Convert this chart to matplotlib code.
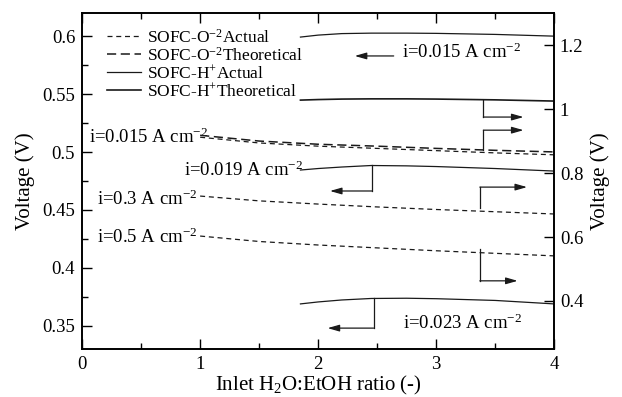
import matplotlib
matplotlib.use("Agg")
import matplotlib.pyplot as plt
from matplotlib.ticker import MultipleLocator, FormatStrFormatter

plt.rcParams['font.family'] = ['Liberation Serif', 'DejaVu Serif']
plt.rcParams['mathtext.fontset'] = 'custom'
plt.rcParams['mathtext.rm'] = 'Liberation Serif'
plt.rcParams['mathtext.it'] = 'Liberation Serif:italic'

# SOFC-O2- curves (right axis), x from 1 to 4
x_o2 = [1.0, 1.5, 2.0, 2.5, 3.0, 3.5, 4.0]
o2_015_theo = [0.918, 0.900, 0.890, 0.884, 0.877, 0.871, 0.866]
o2_015_act = [0.912, 0.894, 0.884, 0.877, 0.870, 0.863, 0.857]
o2_03_act = [0.728, 0.713, 0.703, 0.694, 0.686, 0.679, 0.672]
o2_05_act = [0.603, 0.586, 0.575, 0.566, 0.557, 0.549, 0.541]

# SOFC-H+ curves, x from 1.85 to 4
x_h = [1.85, 2.0, 2.2, 2.45, 2.75, 3.0, 3.5, 4.0]
h_015_act = [0.5993, 0.6010, 0.6023, 0.6027, 0.6027, 0.6025, 0.6016, 0.6001]  # left
h_theo = [1.028, 1.0297, 1.0312, 1.0319, 1.0319, 1.0312, 1.0288, 1.025]       # right
h_019_act = [0.4845, 0.4858, 0.4871, 0.4884, 0.4881, 0.4875, 0.4858, 0.4836]  # left
h_023_act = [0.3689, 0.3706, 0.3723, 0.3736, 0.3738, 0.3734, 0.3719, 0.3689]  # left

legend_labels = [r'SOFC-O$^{-2}$Actual', r'SOFC-O$^{-2}$Theoretical',
                 r'SOFC-H$^{+}$Actual', r'SOFC-H$^{+}$Theoretical']

lc = '#1a1a1a'
short_dash = (0, (4, 3))
long_dash = (0, (6, 3))

fig = plt.figure(figsize=(6.22, 3.97), dpi=100)
ax = fig.add_axes([0.132, 0.121, 0.759, 0.846])
ax2 = ax.twinx()

l1, = ax2.plot(x_o2, o2_015_act, color=lc, lw=0.9, ls=short_dash)
l2, = ax2.plot(x_o2, o2_015_theo, color=lc, lw=1.1, ls=long_dash)
ax2.plot(x_o2, o2_03_act, color=lc, lw=0.9, ls=short_dash)
ax2.plot(x_o2, o2_05_act, color=lc, lw=0.9, ls=short_dash)
l3, = ax.plot(x_h, h_015_act, color=lc, lw=0.9)
ax.plot(x_h, h_019_act, color=lc, lw=0.9)
ax.plot(x_h, h_023_act, color=lc, lw=0.9)
l4, = ax2.plot(x_h, h_theo, color=lc, lw=1.2)

ax.set_xlim(0, 4)
ax.set_ylim(0.33, 0.62)
ax2.set_ylim(0.25, 1.3)

ax.xaxis.set_major_locator(MultipleLocator(1))
ax.xaxis.set_minor_locator(MultipleLocator(0.5))
ax.yaxis.set_major_locator(MultipleLocator(0.05))
ax.yaxis.set_minor_locator(MultipleLocator(0.025))
ax.yaxis.set_major_formatter(FormatStrFormatter('%g'))
ax2.yaxis.set_major_locator(MultipleLocator(0.2))
ax2.yaxis.set_major_formatter(FormatStrFormatter('%g'))

ax.tick_params(which='both', direction='in', top=True, labelsize=13.5, width=1.0, pad=5)
ax.tick_params(which='major', length=7)
ax.tick_params(which='minor', length=4)
ax2.tick_params(which='both', direction='in', labelsize=13.5, length=7, width=1.0, pad=4)
for a in (ax, ax2):
    for s in a.spines.values():
        s.set_linewidth(1.2)

ax.set_xlabel(r'Inlet H$_2$O:EtOH ratio (-)', fontsize=15, labelpad=1)
ax.set_ylabel('Voltage (V)', fontsize=15, labelpad=5)
ax2.set_ylabel('Voltage (V)', fontsize=15, labelpad=5)

ax.legend([l1, l2, l3, l4], legend_labels, loc='upper left', bbox_to_anchor=(0.03, 0.985),
          frameon=False, fontsize=12.5, handlelength=2.0, handletextpad=0.35,
          labelspacing=0.0, borderaxespad=0.2)

fs = 13.5
ax.text(0.06, 0.513, r'i=0.015 A cm$^{-2}$', fontsize=fs, va='center')
ax.text(0.86, 0.4845, r'i=0.019 A cm$^{-2}$', fontsize=fs, va='center')
ax.text(0.13, 0.459, r'i=0.3 A cm$^{-2}$', fontsize=fs, va='center')
ax.text(0.13, 0.426, r'i=0.5 A cm$^{-2}$', fontsize=fs, va='center')
ax.text(2.71, 0.586, r'i=0.015 A cm$^{-2}$', fontsize=fs, va='center')
ax.text(2.72, 0.3524, r'i=0.023 A cm$^{-2}$', fontsize=fs, va='center')

arrow = dict(arrowstyle='-|>,head_length=0.7,head_width=0.2', color=lc, lw=0.9,
             shrinkA=0, shrinkB=0)

# plain arrow pointing to the left axis
ax.annotate('', xy=(2.31, 0.583), xytext=(2.64, 0.583), arrowprops=arrow)

# bracket arrows: (axis, x on curve, y on curve, y of arrow, x of arrow tip)
brackets = [
    (ax2, 3.40, 1.028, 0.975, 3.74),
    (ax2, 3.40, 0.872, 0.934, 3.74),
    (ax2, 3.37, 0.690, 0.756, 3.77),
    (ax2, 3.37, 0.562, 0.463, 3.69),
    (ax, 2.46, 0.4885, 0.4664, 2.10),
    (ax, 2.47, 0.3737, 0.348, 2.08),
]
for a, bx, by, ay, tx in brackets:
    a.plot([bx, bx], [by, ay], color=lc, lw=0.9)
    a.annotate('', xy=(tx, ay), xytext=(bx, ay), arrowprops=arrow)

fig.savefig('out.png', dpi=100)
